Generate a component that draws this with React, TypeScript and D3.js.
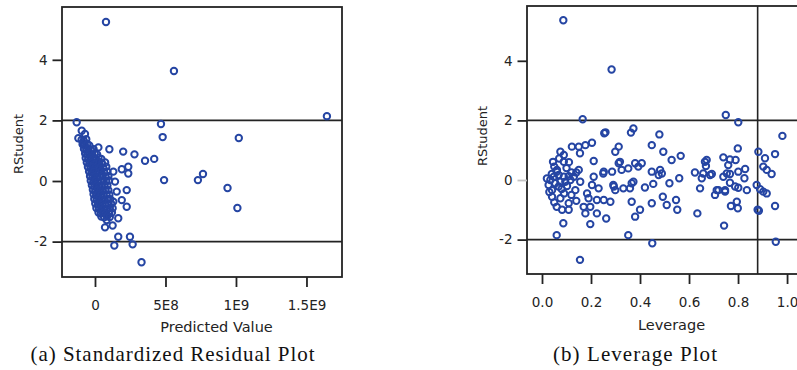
import { useEffect, useRef } from 'react';
import * as d3 from 'd3';

// predicted value is in units of 1E8
const residualPoints: [number, number][] = [
  [0.78, 5.25], [5.6, 3.63], [16.45, 2.14], [10.2, 1.42], [7.66, 0.23], [7.3, 0.03],
  [9.4, -0.23], [10.1, -0.89], [4.68, 1.88], [4.8, 1.45], [4.9, 0.03],
  [-1.3, 1.94], [-0.94, 1.66], [-0.71, 1.55], [-1.18, 1.41], [-0.83, 1.24],
  [0.24, 1.11], [1.02, 1.05], [2.0, 0.97], [2.8, 0.88], [3.55, 0.67], [4.2, 0.73],
  [1.3, 0.31], [1.9, 0.39], [2.36, 0.47], [2.36, 0.25], [1.42, -0.02], [1.54, -0.35],
  [1.3, -0.68], [1.9, -0.63], [2.25, -0.85], [1.65, -1.23], [0.71, -1.53], [1.25, -1.47],
  [1.65, -1.84], [2.48, -1.84], [1.37, -2.13], [2.67, -2.09], [3.3, -2.68], [0.83, -1.29],
  [1.0, -1.01], [2.25, -0.3],
  // dense band near zero
  [-0.95, 1.36], [-0.8, 1.33], [-0.62, 1.38],
  [-0.88, 1.21], [-0.72, 1.18], [-0.55, 1.22], [-0.4, 1.17],
  [-0.78, 1.06], [-0.62, 1.03], [-0.45, 1.07], [-0.28, 1.02], [-0.1, 1.05],
  [-0.7, 0.91], [-0.55, 0.88], [-0.38, 0.92], [-0.2, 0.87], [-0.02, 0.9], [0.15, 0.88],
  [-0.66, 0.76], [-0.48, 0.73], [-0.3, 0.77], [-0.12, 0.74], [0.05, 0.72], [0.25, 0.76], [0.45, 0.73],
  [-0.58, 0.61], [-0.4, 0.58], [-0.22, 0.62], [-0.05, 0.57], [0.12, 0.6], [0.3, 0.63], [0.5, 0.58], [0.72, 0.61],
  [-0.5, 0.46], [-0.32, 0.43], [-0.15, 0.47], [0.02, 0.44], [0.2, 0.42], [0.38, 0.46], [0.58, 0.44], [0.8, 0.47],
  [-0.42, 0.31], [-0.25, 0.28], [-0.08, 0.32], [0.1, 0.27], [0.28, 0.3], [0.45, 0.33], [0.65, 0.29], [0.88, 0.31],
  [-0.35, 0.16], [-0.18, 0.13], [0.0, 0.17], [0.18, 0.12], [0.35, 0.15], [0.55, 0.18], [0.75, 0.14], [0.95, 0.16],
  [-0.3, 0.01], [-0.12, -0.02], [0.05, 0.02], [0.22, -0.03], [0.42, 0.0], [0.6, 0.03], [0.8, -0.01], [1.0, 0.02],
  [-0.22, -0.14], [-0.05, -0.17], [0.12, -0.13], [0.3, -0.16], [0.48, -0.18], [0.68, -0.14], [0.88, -0.15],
  [-0.15, -0.29], [0.02, -0.32], [0.2, -0.28], [0.38, -0.31], [0.55, -0.33], [0.75, -0.29], [0.95, -0.3],
  [-0.1, -0.44], [0.08, -0.47], [0.25, -0.43], [0.42, -0.46], [0.62, -0.48], [0.82, -0.44], [1.02, -0.45],
  [-0.05, -0.59], [0.12, -0.62], [0.3, -0.58], [0.5, -0.61], [0.68, -0.63], [0.88, -0.59], [1.08, -0.6],
  [0.02, -0.74], [0.2, -0.77], [0.38, -0.73], [0.55, -0.76], [0.75, -0.78], [0.95, -0.74], [1.15, -0.75],
  [0.1, -0.89], [0.28, -0.92], [0.45, -0.88], [0.65, -0.91], [0.85, -0.93], [1.05, -0.89], [1.25, -0.9],
  [0.25, -1.04], [0.42, -1.07], [0.6, -1.03], [0.8, -1.06], [1.0, -1.08], [1.2, -1.04],
  [0.45, -1.17], [0.65, -1.2], [0.85, -1.16], [1.05, -1.19],
];

const leveragePoints: [number, number][] = [
  [0.087, 5.36], [0.284, 3.71], [0.166, 2.04], [0.75, 2.18], [0.801, 1.94], [0.981, 1.48],
  [0.479, 1.53], [0.373, 1.73], [0.363, 1.59], [0.352, -1.85], [0.45, -2.12], [0.954, -2.07],
  [0.743, -1.53], [0.06, -1.85], [0.155, -2.68], [0.087, -1.45],
  [0.254, 1.57], [0.259, 1.6], [0.204, 1.25], [0.177, 1.17], [0.15, 1.12], [0.122, 1.12],
  [0.075, 0.95], [0.089, 0.84], [0.045, 0.61], [0.089, 0.61], [0.211, 0.64], [0.299, 0.95],
  [0.313, 1.12], [0.061, 0.34], [0.15, 0.34], [0.252, 0.28], [0.286, 0.28], [0.313, 0.56],
  [0.034, 0.0], [0.048, 0.11], [0.068, 0.17], [0.089, 0.11], [0.109, 0.13], [0.054, -0.11],
  [0.075, -0.06], [0.095, -0.06], [0.116, 0.0], [0.027, -0.17], [0.068, -0.22], [0.102, -0.2],
  [0.041, -0.34], [0.13, 0.11], [0.156, -0.06], [0.211, 0.11], [0.204, -0.17], [0.136, -0.34],
  [0.231, -0.28], [0.293, -0.22], [0.299, -0.34], [0.041, -0.56], [0.075, -0.61], [0.184, -0.45],
  [0.19, -0.61], [0.252, -0.67], [0.279, -0.73], [0.224, -0.67], [0.109, -0.78], [0.082, -1.0],
  [0.109, -1.0], [0.17, -0.9], [0.197, -0.9], [0.224, -1.12], [0.177, -1.12], [0.262, -1.29],
  [0.197, -1.48], [0.02, 0.05], [0.06, 0.28], [0.1, 0.4], [0.03, -0.4], [0.05, 0.45],
  [0.12, -0.5], [0.08, -0.3], [0.14, 0.25], [0.11, 0.6], [0.07, 0.72], [0.06, -0.9],
  [0.14, -0.7], [0.155, 0.9], [0.04, 0.2], [0.09, -0.45], [0.12, 0.25], [0.05, -0.75],
  [0.448, 1.17], [0.495, 0.95], [0.529, 0.67], [0.566, 0.81], [0.318, 0.61], [0.352, 0.39],
  [0.38, 0.56], [0.407, 0.56], [0.393, 0.45], [0.325, 0.34], [0.448, 0.28], [0.482, 0.34],
  [0.489, 0.22], [0.476, 0.17], [0.56, 0.06], [0.624, 0.25], [0.658, 0.22], [0.652, 0.06],
  [0.645, -0.28], [0.665, 0.61], [0.373, -0.06], [0.359, -0.28], [0.332, -0.28], [0.42, -0.25],
  [0.454, -0.13], [0.52, -0.11], [0.366, -0.73], [0.4, -1.0], [0.38, -1.23], [0.448, -0.78],
  [0.493, -0.56], [0.509, -0.84], [0.547, -0.67], [0.552, -1.0], [0.634, -1.12],
  [0.25, 0.22], [0.686, 0.17], [0.72, -0.34], [0.747, -0.39], [0.788, -0.22], [0.754, 0.22],
  [0.903, -0.39], [0.291, -0.17], [0.366, -0.11], [0.669, 0.47],
  [0.799, 1.06], [0.883, 0.95], [0.951, 0.87], [0.91, 0.73], [0.672, 0.67], [0.74, 0.76],
  [0.767, 0.69], [0.79, 0.67], [0.76, 0.5], [0.829, 0.37], [0.801, 0.28], [0.903, 0.45],
  [0.917, 0.34], [0.937, 0.2], [0.693, 0.2], [0.74, 0.11], [0.767, 0.2], [0.826, 0.06],
  [0.767, -0.09], [0.801, -0.26], [0.836, -0.34], [0.876, -0.17], [0.89, -0.31], [0.917, -0.45],
  [0.713, -0.34], [0.706, -0.5], [0.747, -0.34], [0.771, -0.87], [0.795, -0.73], [0.799, -0.95],
  [0.88, -1.0], [0.885, -1.03], [0.951, -0.87],
];

const rstudentTicks = [-2, 0, 2, 4];
const rstudentBounds = [-2, 2];
const predictedTicks = [0, 5, 10, 15];
const predictedTickLabels = ['0', '5E8', '1E9', '1.5E9'];
const leverageTicks = [0, 0.2, 0.4, 0.6, 0.8, 1.0];
const leverageCutoff = [0.88];

const FONT = '"DejaVu Sans", Verdana, sans-serif';
const INK = '#232323';
const DOT = '#2545a3';

type Panel = {
  points: [number, number][];
  frame: [number, number, number, number];
  xDomain: [number, number];
  yDomain: [number, number];
  xTicks: number[];
  xFormat: (d: number, i: number) => string;
  xTitle: string;
  xTitlePos: [number, number];
  yTitlePos: [number, number];
  caption: string;
  captionX: number;
  captionLength: number;
  vLines: number[];
  grayZeroTick: boolean;
};

const panels: Panel[] = [
  {
    points: residualPoints,
    frame: [62, 7, 342, 277],
    xDomain: [-2.34, 17.52],
    yDomain: [-3.168, 5.743],
    xTicks: predictedTicks,
    xFormat: (_d, i) => predictedTickLabels[i],
    xTitle: 'Predicted Value',
    xTitlePos: [216.5, 332],
    yTitlePos: [23, 144],
    caption: '(a) Standardized Residual Plot',
    captionX: 30.5,
    captionLength: 284,
    vLines: [],
    grayZeroTick: false,
  },
  {
    points: leveragePoints,
    frame: [527, 6, 802, 274],
    xDomain: [-0.0612, 1.061],
    yDomain: [-3.154, 5.839],
    xTicks: leverageTicks,
    xFormat: d => d.toFixed(1),
    xTitle: 'Leverage',
    xTitlePos: [671.5, 330],
    yTitlePos: [487, 136],
    caption: '(b) Leverage Plot',
    captionX: 553,
    captionLength: 164,
    vLines: leverageCutoff,
    grayZeroTick: true,
  },
];

export default function App() {
  const svgRef = useRef<SVGSVGElement>(null);

  useEffect(() => {
    const svg = d3.select(svgRef.current);
    svg.selectAll('*').remove();

    svg.append('rect').attr('width', 797).attr('height', 370).attr('fill', '#fff');

    panels.forEach(p => {
      const [x0, y0, x1, y1] = p.frame;
      const x = d3.scaleLinear().domain(p.xDomain).range([x0, x1]);
      const y = d3.scaleLinear().domain(p.yDomain).range([y1, y0]);
      const g = svg.append('g');

      // Reference lines
      g.selectAll('.hline')
        .data(rstudentBounds)
        .join('line')
        .attr('x1', x0).attr('x2', x1)
        .attr('y1', d => y(d)).attr('y2', d => y(d))
        .attr('stroke', INK)
        .attr('stroke-width', 1.6);

      g.selectAll('.vline')
        .data(p.vLines)
        .join('line')
        .attr('x1', d => x(d)).attr('x2', d => x(d))
        .attr('y1', y0).attr('y2', y1)
        .attr('stroke', INK)
        .attr('stroke-width', 1.6);

      // Frame
      g.append('rect')
        .attr('x', x0).attr('y', y0)
        .attr('width', x1 - x0).attr('height', y1 - y0)
        .attr('fill', 'none')
        .attr('stroke', INK)
        .attr('stroke-width', 1.8);

      // Points
      g.selectAll('.dot')
        .data(p.points)
        .join('circle')
        .attr('cx', d => x(d[0]))
        .attr('cy', d => y(d[1]))
        .attr('r', 3.2)
        .attr('fill', 'none')
        .attr('stroke', DOT)
        .attr('stroke-width', 2);

      // Y axis
      const ya = g.append('g')
        .attr('transform', `translate(${x0},0)`)
        .call(d3.axisLeft(y).tickValues(rstudentTicks).tickSize(9.5).tickPadding(5).tickFormat(d => String(d)));
      ya.select('.domain').remove();

      // X axis
      const xa = g.append('g')
        .attr('transform', `translate(0,${y1})`)
        .call(d3.axisBottom(x).tickValues(p.xTicks).tickSize(10).tickPadding(13).tickFormat(p.xFormat as any));
      xa.select('.domain').remove();

      g.selectAll('.tick line')
        .attr('stroke', INK)
        .attr('stroke-width', 1.8);
      if (p.grayZeroTick) {
        ya.selectAll('.tick')
          .filter(d => d === 0)
          .select('line')
          .attr('stroke', '#c4c4c4');
      }
      g.selectAll('.tick text')
        .attr('fill', INK)
        .attr('font-family', FONT)
        .attr('font-size', '13.5px');

      // Titles
      g.append('text')
        .attr('x', p.xTitlePos[0]).attr('y', p.xTitlePos[1])
        .attr('text-anchor', 'middle')
        .attr('font-family', FONT)
        .attr('font-size', '14.5px')
        .attr('fill', INK)
        .text(p.xTitle);

      g.append('text')
        .attr('transform', `translate(${p.yTitlePos[0]},${p.yTitlePos[1]}) rotate(-90)`)
        .attr('text-anchor', 'middle')
        .attr('font-family', FONT)
        .attr('font-size', '13px')
        .attr('fill', INK)
        .text('RStudent');

      g.append('text')
        .attr('x', p.captionX).attr('y', 361)
        .attr('font-family', '"Liberation Serif", "DejaVu Serif", serif')
        .attr('font-size', '21px')
        .attr('fill', '#111')
        .attr('textLength', p.captionLength)
        .attr('lengthAdjust', 'spacing')
        .text(p.caption);
    });
  }, []);

  return (
    <svg
      ref={svgRef}
      width={797}
      height={370}
      style={{ position: 'absolute', left: 0, top: 0, display: 'block' }}
    />
  );
}
